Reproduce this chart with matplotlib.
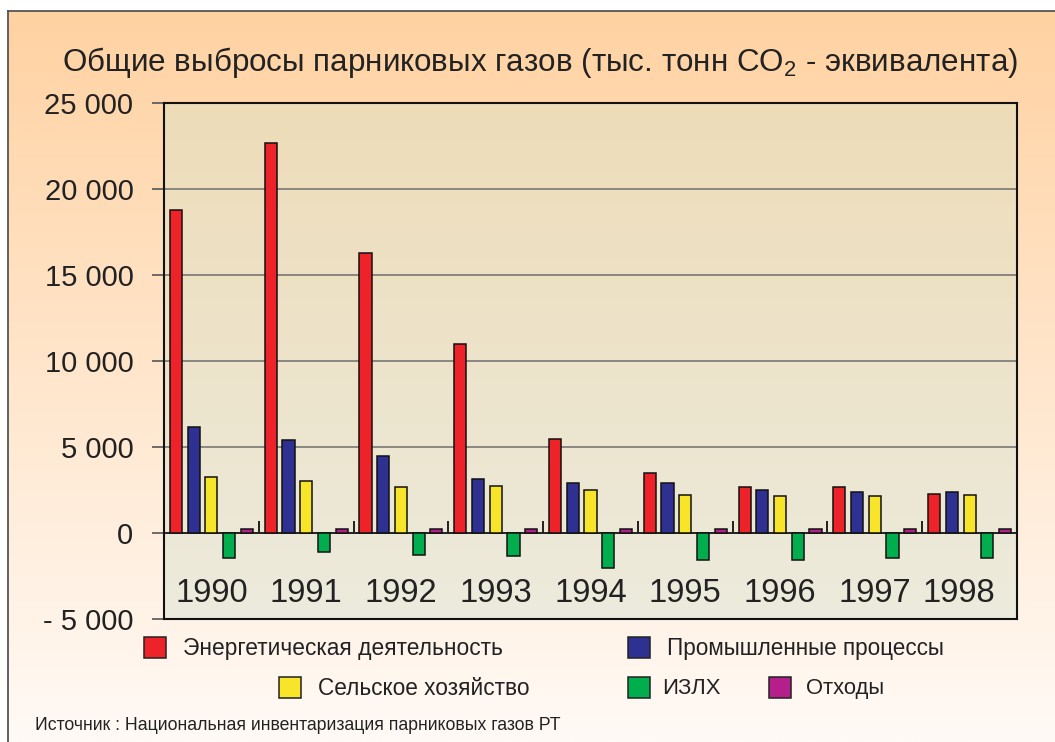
import numpy as np
import matplotlib
matplotlib.use("Agg")
import matplotlib.pyplot as plt
from matplotlib.patches import Rectangle
from matplotlib.colors import to_rgb

# ---------------- data ----------------
years = ["1990", "1991", "1992", "1993", "1994", "1995", "1996", "1997", "1998"]
series_names = ["Энергетическая деятельность", "Промышленные процессы",
                "Сельское хозяйство", "ИЗЛХ", "Отходы"]
energy      = [18800, 22700, 16300, 11000, 5500, 3500, 2700, 2700, 2300]
industry    = [6180, 5390, 4500, 3140, 2940, 2940, 2480, 2380, 2380]
agriculture = [3270, 3040, 2690, 2710, 2480, 2240, 2130, 2130, 2240]
lulucf      = [-1470, -1120, -1260, -1360, -2030, -1590, -1590, -1480, -1480]
waste       = [230, 230, 230, 230, 230, 230, 230, 230, 230]
series_values = [energy, industry, agriculture, lulucf, waste]
colors = ["#EE2229", "#2E3192", "#F8E52A", "#00AE4D", "#B51F8C"]
yticks = [-5000, 0, 5000, 10000, 15000, 20000, 25000]
ytick_labels = ["- 5 000", "0", "5 000", "10 000", "15 000", "20 000", "25 000"]
title = "Общие выбросы парниковых газов (тыс. тонн CO$_\\mathregular{2}$ - эквивалента)"
source = "Источник : Национальная инвентаризация парниковых газов РТ"

plt.rcParams["font.family"] = ["Liberation Sans", "DejaVu Sans"]
plt.rcParams["mathtext.fontset"] = "custom"
plt.rcParams["mathtext.rm"] = "Liberation Sans"

W, H = 1055, 742
fig = plt.figure(figsize=(W / 100, H / 100), dpi=100)
fig.patch.set_facecolor("white")
renderer = fig.canvas.get_renderer()


def fit_width(txt, target_px):
    w = txt.get_window_extent(renderer).width
    txt.set_fontsize(txt.get_fontsize() * target_px / w)


# figure background gradient (vertical, peach -> near white)
bg = fig.add_axes([7.5 / W, 0, 1 - 7.5 / W, (H - 11) / H], zorder=-10)
top_c = np.array(to_rgb("#FFD2A2"))
bot_c = np.array(to_rgb("#FFFAF6"))
t = np.linspace(0, 1, 256)[:, None, None]
grad = np.repeat(top_c * (1 - t) + bot_c * t, 4, axis=1)
bg.imshow(grad, aspect="auto", extent=[0, 1, 0, 1], origin="upper")
bg.set_xlim(0, 1); bg.set_ylim(0, 1)
bg.set_xticks([]); bg.set_yticks([])
for s in ["top", "left"]:
    bg.spines[s].set_color("#555555"); bg.spines[s].set_linewidth(1.3)
for s in ["right", "bottom"]:
    bg.spines[s].set_visible(False)

# main axes
ax = fig.add_axes([164 / W, (H - 619) / H, 853 / W, 515.7 / H])
ax.set_facecolor("none")
pa_top = np.array(to_rgb("#EEDCB8"))
pa_bot = np.array(to_rgb("#ECEBDD"))
g2 = np.repeat(pa_top * (1 - t) + pa_bot * t, 4, axis=1)
ax.imshow(g2, aspect="auto", extent=[0, 1, 0, 1], origin="upper",
          transform=ax.transAxes, zorder=0)

n = len(years)
x = np.arange(n)
pitch = 0.187
bw = 0.128
offsets = (np.arange(len(series_values)) - 2) * pitch
for vals, c, off in zip(series_values, colors, offsets):
    ax.bar(x + off, vals, width=bw, color=c, edgecolor="#111111",
           linewidth=1.1, zorder=3)

ax.set_xlim(-0.5, n - 0.5)
ax.set_ylim(-5000, 25000)
ax.set_yticks(yticks)
ax.set_yticklabels(ytick_labels, fontsize=21, color="#222222")
ax.tick_params(axis="y", direction="out", length=9, width=1.2,
               color="#555555", pad=13)
ax.set_xticks([])
for yv in yticks[2:-1]:
    ax.axhline(yv, color="#6E6E6E", linewidth=1.1, zorder=1)
for s in ax.spines.values():
    s.set_color("#111111"); s.set_linewidth(1.5); s.set_zorder(5)

# zero axis with category separator ticks
sec = ax.secondary_xaxis(5000 / 30000)
sec.set_xticks(np.arange(n - 1) + 0.5)
sec.set_xticklabels([])
sec.tick_params(axis="x", direction="in", length=9, width=1.3, color="#111111")
sec.spines["bottom"].set_color("#222222")
sec.spines["bottom"].set_linewidth(1.4)

label_shift = [0, 0, 0, 0, 0, 0, 0, 0, -0.11]
for xi, lab, dx in zip(x, years, label_shift):
    ax.text(xi + dx, -3530, lab, ha="center", va="center", fontsize=23.5,
            color="#222222", zorder=4)

# title
tt = fig.text(62 / W, 1 - 62 / H, title, ha="left", va="center",
              fontsize=21, color="#222222")
fit_width(tt, 955)

# legend (manual layout): square x, square top y, text x, text right x
legend_pos = [(144, 637, 183, 512), (628, 637, 667, 952), (279, 677, 318, 535),
              (628, 677, 662, 722), (769, 677, 806, 887)]
for (sx, sy, tx, tr), name, c in zip(legend_pos, series_names, colors):
    fig.patches.append(Rectangle((sx / W, 1 - (sy + 21) / H), 22 / W, 21 / H,
                                 transform=fig.transFigure, facecolor=c,
                                 edgecolor="#222222", linewidth=1.1))
    lt = fig.text(tx / W, 1 - (sy + 11.5) / H, name, ha="left", va="center",
                  fontsize=13.5, color="#222222")
    fit_width(lt, (tr - tx) * 0.97)

st = fig.text(35 / W, 1 - 726 / H, source, ha="left", va="center",
              fontsize=11, color="#222222")
fit_width(st, 545 * 0.96)

fig.savefig("out.png", dpi=100)
